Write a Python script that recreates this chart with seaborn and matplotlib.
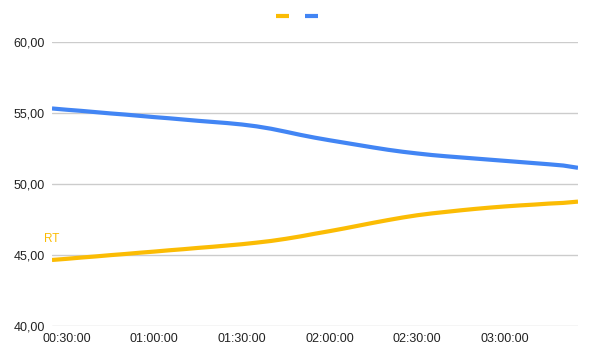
import matplotlib
matplotlib.use("Agg")
import matplotlib.pyplot as plt
import seaborn as sns
import pandas as pd
from matplotlib.lines import Line2D

# Data: minutes since 00:00:00, every 5 min from 00:25 to 03:25
minutes = list(range(25, 206, 5))
series_blue = [55.32, 55.23, 55.15, 55.06, 54.97, 54.89, 54.80, 54.71, 54.63, 54.54,
               54.45, 54.37, 54.29, 54.19, 54.06, 53.89, 53.68, 53.46, 53.26, 53.08,
               52.91, 52.74, 52.57, 52.41, 52.27, 52.15, 52.04, 51.95, 51.87, 51.79,
               51.71, 51.63, 51.55, 51.47, 51.39, 51.30, 51.14]
series_yellow = [44.65, 44.73, 44.82, 44.90, 44.99, 45.07, 45.16, 45.24, 45.33, 45.41,
                 45.50, 45.58, 45.67, 45.76, 45.87, 45.99, 46.14, 46.31, 46.50, 46.68,
                 46.87, 47.07, 47.27, 47.46, 47.64, 47.80, 47.93, 48.04, 48.15, 48.25,
                 48.34, 48.42, 48.49, 48.55, 48.62, 48.67, 48.76]
tick_minutes = [30, 60, 90, 120, 150, 180]
tick_labels = ["00:30:00", "01:00:00", "01:30:00", "02:00:00", "02:30:00", "03:00:00"]
y_ticks = [40, 45, 50, 55, 60]
y_labels = ["40,00", "45,00", "50,00", "55,00", "60,00"]

YELLOW = "#FBBC04"
BLUE = "#4285F4"

df = pd.DataFrame({
    "t": minutes * 2,
    "v": series_yellow + series_blue,
    "s": ["yellow"] * len(minutes) + ["blue"] * len(minutes),
})

sns.set_theme(style="white")
plt.rcParams["font.family"] = ["Liberation Sans", "DejaVu Sans"]

fig = plt.figure(figsize=(5.89, 3.57), dpi=100)
ax = fig.add_axes([52 / 589, 1 - 326 / 357, (578 - 52) / 589, (326 - 42) / 357])

sns.lineplot(data=df, x="t", y="v", hue="s", palette={"yellow": YELLOW, "blue": BLUE},
             linewidth=3.0, legend=False, ax=ax, hue_order=["blue", "yellow"])
for ln in ax.get_lines():
    ln.set_solid_joinstyle("round")
    ln.set_solid_capstyle("butt")

ax.set_xlim(25, 205)
ax.set_ylim(40, 60)
ax.set_yticks(y_ticks)
ax.set_yticklabels(y_labels)
ax.set_xticks(tick_minutes)
ax.set_xticklabels(tick_labels)
ax.set_xlabel("")
ax.set_ylabel("")
ax.grid(axis="y", color="#cccccc", linewidth=1)
ax.grid(axis="x", visible=False)
for sp in ax.spines.values():
    sp.set_visible(False)
ax.tick_params(axis="both", length=0, labelsize=9, colors="#222222")
ax.tick_params(axis="y", pad=5)
ax.tick_params(axis="x", pad=5)

ax.text(25, 46.1, "RT", color=YELLOW, fontsize=8.5, ha="center", va="center")

handles = [Line2D([], [], color=YELLOW, linewidth=3.0, solid_capstyle="butt"),
           Line2D([], [], color=BLUE, linewidth=3.0, solid_capstyle="butt")]
fig.legend(handles, ["", ""], loc="center", bbox_to_anchor=(297 / 589, 1 - 17 / 357),
           ncol=2, frameon=False, handlelength=1.0, columnspacing=1.3, handletextpad=0.0,
           fontsize=9)

fig.savefig("out.png", dpi=100)
